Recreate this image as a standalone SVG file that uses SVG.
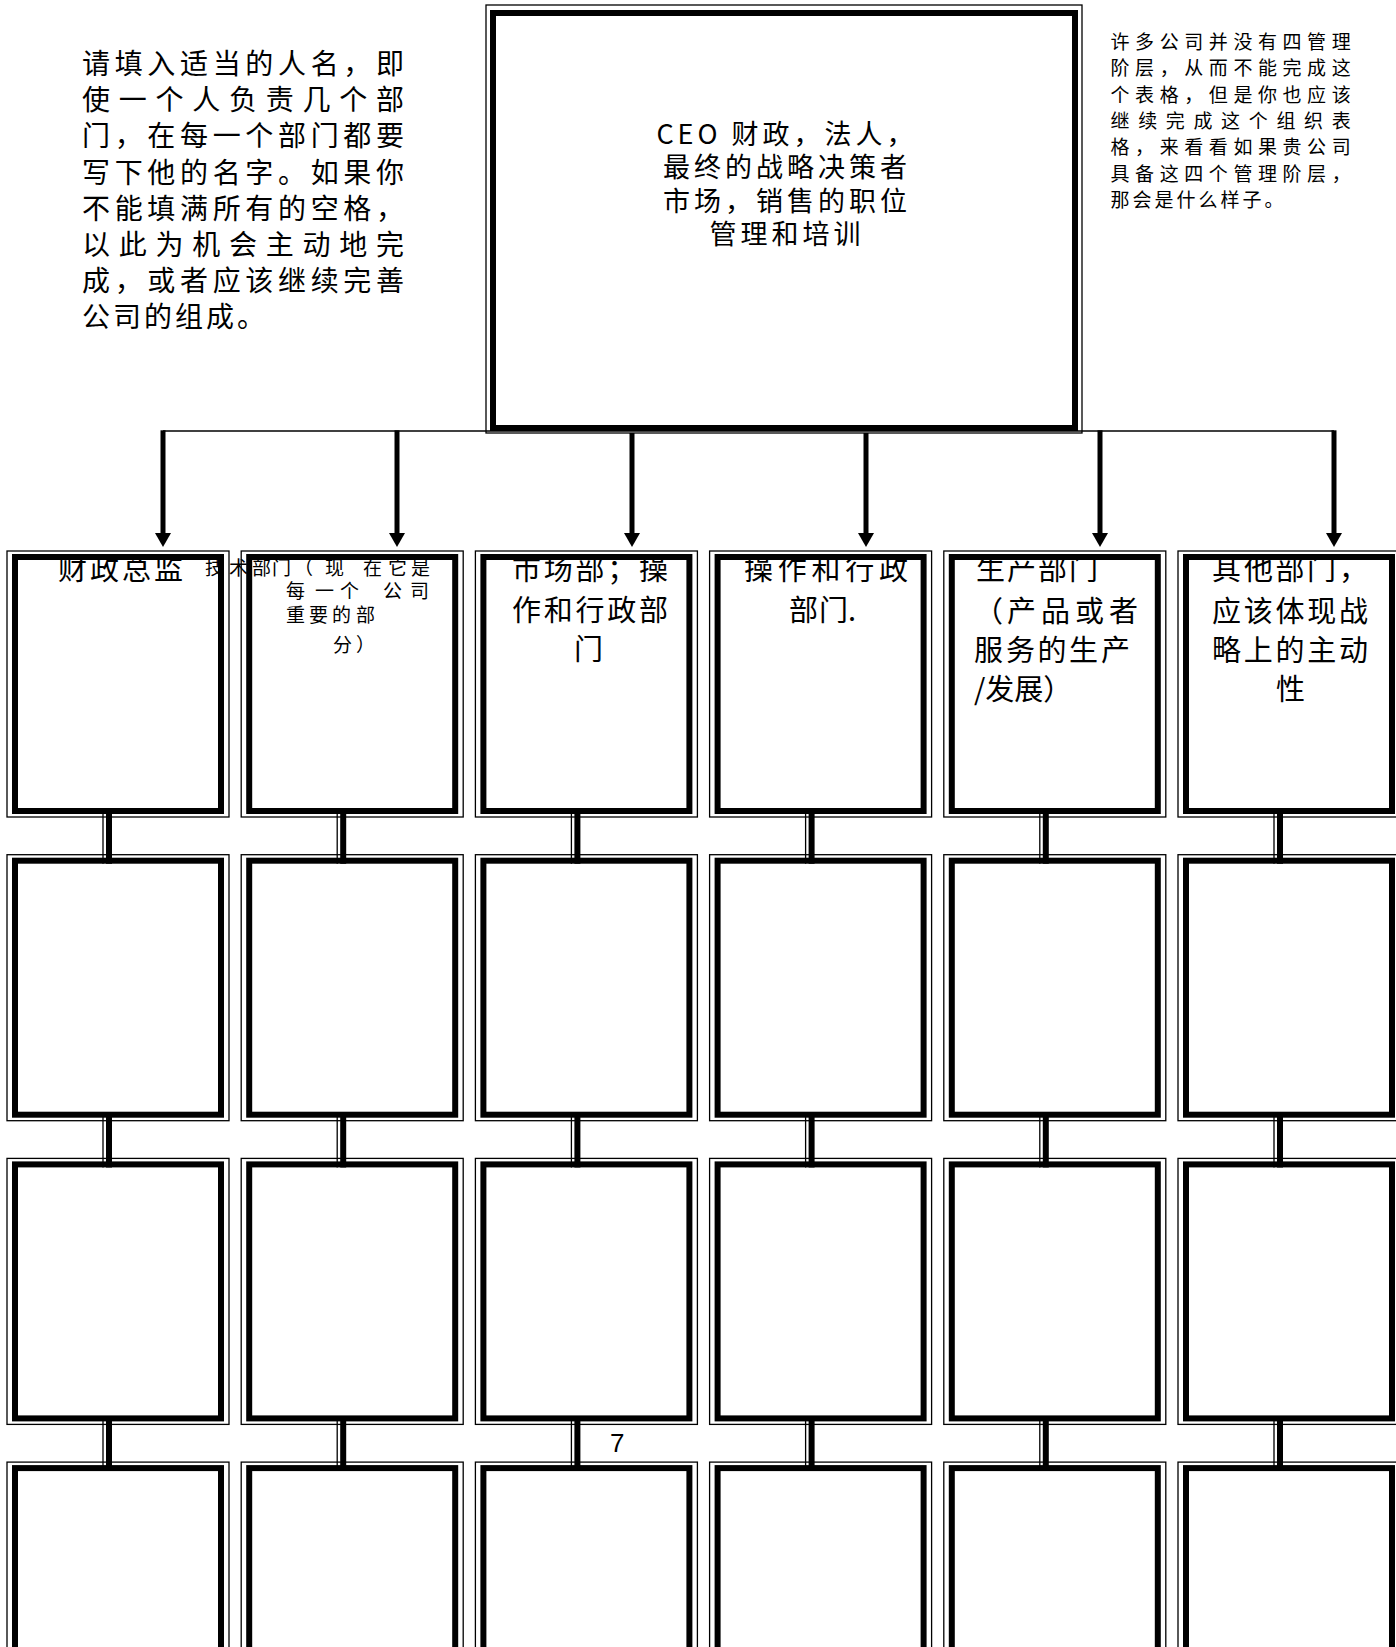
<svg xmlns="http://www.w3.org/2000/svg" width="1396" height="1647" viewBox="0 0 1396 1647">
<style>
.thin{fill:none;stroke:#000;stroke-width:1.3}
.thick{fill:none;stroke:#000;stroke-width:6}
.ct{fill:none;stroke:#000;stroke-width:1.3}
.ck{fill:none;stroke:#000;stroke-width:6}
.hl{fill:none;stroke:#000;stroke-width:1.5}
.ar{fill:none;stroke:#000;stroke-width:5;marker-end:url(#ah)}
.t{font-family:"Noto Sans CJK SC","Noto Sans",sans-serif;fill:#000}
.f28{font-size:28px}
.f19{font-size:19px}
.fceo{font-size:27px;letter-spacing:4px}
.f29{font-size:29px}
.fsm{font-size:19px}
.num{font-family:"Liberation Sans",Arial,sans-serif;font-size:26px;fill:#000}
</style>
<defs>
<marker id="ah" markerUnits="userSpaceOnUse" markerWidth="14" markerHeight="16" viewBox="0 0 14 16" refX="0" refY="8" orient="auto"><path d="M0,0 L14,8 L0,16 z" fill="#000"/></marker>
</defs>
<rect x="0" y="0" width="1396" height="1647" fill="#fff"/>

<g id="note-left" class="t f28">
<text x="82 114.7 147.3 180 212.7 245.3 278 310.7 343.3 376" y="73.9">请填入适当的人名，即</text>
<text x="82 118.75 155.5 192.25 229 265.75 302.5 339.25 376" y="110.1">使一个人负责几个部</text>
<text x="82 114.7 147.3 180 212.7 245.3 278 310.7 343.3 376" y="146.3">门，在每一个部门都要</text>
<text x="82 114.7 147.3 180 212.7 245.3 278 310.7 343.3 376" y="182.5">写下他的名字。如果你</text>
<text x="82 114.7 147.3 180 212.7 245.3 278 310.7 343.3 376" y="218.7">不能填满所有的空格，</text>
<text x="82 118.75 155.5 192.25 229 265.75 302.5 339.25 376" y="254.9">以此为机会主动地完</text>
<text x="82 114.7 147.3 180 212.7 245.3 278 310.7 343.3 376" y="291.1">成，或者应该继续完善</text>
<text x="82 113 144 175 206 237" y="327.3">公司的组成。</text>
</g>

<g id="note-right" class="t f19">
<text x="1110.5 1135.1 1159.7 1184.2 1208.8 1233.4 1258 1282.6 1307.1 1331.7" y="48.8">许多公司并没有四管理</text>
<text x="1110.5 1135.1 1159.7 1184.2 1208.8 1233.4 1258 1282.6 1307.1 1331.7" y="75.2">阶层，从而不能完成这</text>
<text x="1110.5 1135.1 1159.7 1184.2 1208.8 1233.4 1258 1282.6 1307.1 1331.7" y="101.6">个表格，但是你也应该</text>
<text x="1110.5 1138.2 1165.8 1193.5 1221.1 1248.8 1276.4 1304.1 1331.7" y="128">继续完成这个组织表</text>
<text x="1110.5 1135.1 1159.7 1184.2 1208.8 1233.4 1258 1282.6 1307.1 1331.7" y="154.4">格，来看看如果贵公司</text>
<text x="1110.5 1135.1 1159.7 1184.2 1208.8 1233.4 1258 1282.6 1307.1 1331.7" y="180.8">具备这四个管理阶层，</text>
<text x="1110.5 1132.5 1154.5 1176.5 1198.5 1220.5 1242.5 1264.5" y="207.2">那会是什么样子。</text>
</g>

<g id="ceo">
<rect class="thin" x="486" y="5" width="596" height="428"/>
<rect class="thick" x="493" y="13" width="582" height="415"/>
<g class="t fceo" text-anchor="middle">
<text x="787" y="143.5">CEO 财政，法人，</text>
<text x="787" y="177">最终的战略决策者</text>
<text x="787" y="210.5">市场，销售的职位</text>
<text x="787" y="244">管理和培训</text>
</g>
</g>

<g id="connectors">
<path class="hl" d="M163,431 H1334"/>
<line class="ar" x1="163" y1="430.3" x2="163" y2="533"/>
<line class="ar" x1="397" y1="430.3" x2="397" y2="533"/>
<line class="ar" x1="632" y1="433" x2="632" y2="533"/>
<line class="ar" x1="866" y1="433" x2="866" y2="533"/>
<line class="ar" x1="1100" y1="430.3" x2="1100" y2="533"/>
<line class="ar" x1="1334" y1="430.3" x2="1334" y2="533"/>
<path class="ct" d="M103,809V863.7M103,1112.7V1167.4M103,1416.4V1471.1"/>
<path class="ck" d="M109,809V863.7M109,1112.7V1167.4M109,1416.4V1471.1"/>
<path class="ct" d="M337.2,809V863.7M337.2,1112.7V1167.4M337.2,1416.4V1471.1"/>
<path class="ck" d="M343.2,809V863.7M343.2,1112.7V1167.4M343.2,1416.4V1471.1"/>
<path class="ct" d="M571.4,809V863.7M571.4,1112.7V1167.4M571.4,1416.4V1471.1"/>
<path class="ck" d="M577.4,809V863.7M577.4,1112.7V1167.4M577.4,1416.4V1471.1"/>
<path class="ct" d="M805.6,809V863.7M805.6,1112.7V1167.4M805.6,1416.4V1471.1"/>
<path class="ck" d="M811.6,809V863.7M811.6,1112.7V1167.4M811.6,1416.4V1471.1"/>
<path class="ct" d="M1039.8,809V863.7M1039.8,1112.7V1167.4M1039.8,1416.4V1471.1"/>
<path class="ck" d="M1045.8,809V863.7M1045.8,1112.7V1167.4M1045.8,1416.4V1471.1"/>
<path class="ct" d="M1274,809V863.7M1274,1112.7V1167.4M1274,1416.4V1471.1"/>
<path class="ck" d="M1280,809V863.7M1280,1112.7V1167.4M1280,1416.4V1471.1"/>
</g>

<g id="dept-finance">
<text class="t f29" x="58 90 122 154" y="580">财政总监</text>
<rect class="thin" x="7" y="551" width="222" height="266"/>
<rect class="thick" x="15" y="557" width="206" height="254"/>
</g>
<g id="dept-tech">
<g class="t fsm">
<text x="205 229 252 272 294 325 363 388 411" y="575">技术部门（现在它是</text>
<text x="286 315 340 383 410" y="598">每一个公司</text>
<text x="286 309 332 356" y="621.5">重要的部</text>
<text x="333 356" y="652">分）</text>
</g>
<rect class="thin" x="241.2" y="551" width="222" height="266"/>
<rect class="thick" x="249.2" y="557" width="206" height="254"/>
</g>
<g id="dept-marketing">
<g class="t f29">
<text x="512 543.75 575.5 607.25 639" y="580">市场部；操</text>
<text x="512 543.75 575.5 607.25 639" y="621">作和行政部</text>
<text x="574" y="660">门</text>
</g>
<rect class="thin" x="475.4" y="551" width="222" height="266"/>
<rect class="thick" x="483.4" y="557" width="206" height="254"/>
</g>
<g id="dept-operations">
<g class="t f29">
<text x="744 777.75 811.5 845.25 879" y="580">操作和行政</text>
<text x="789 819 848" y="621">部门.</text>
</g>
<rect class="thin" x="709.6" y="551" width="222" height="266"/>
<rect class="thick" x="717.6" y="557" width="206" height="254"/>
</g>
<g id="dept-production">
<g class="t f29">
<text x="976 1007 1038 1069" y="580">生产部门</text>
<text x="974 1007 1041 1075 1109" y="622">（产品或者</text>
<text x="974 1006 1037.5 1069 1101" y="661">服务的生产</text>
<text x="974" y="700">/发展）</text>
</g>
<rect class="thin" x="943.8" y="551" width="222" height="266"/>
<rect class="thick" x="951.8" y="557" width="206" height="254"/>
</g>
<g id="dept-other">
<g class="t f29">
<text x="1212 1244 1275.5 1307 1339" y="580">其他部门，</text>
<text x="1212 1243.75 1275.5 1307.25 1339" y="622">应该体现战</text>
<text x="1212 1243.75 1275.5 1307.25 1339" y="661">略上的主动</text>
<text x="1276" y="700">性</text>
</g>
<rect class="thin" x="1178" y="551" width="222" height="266"/>
<rect class="thick" x="1186" y="557" width="206" height="254"/>
</g>

<g id="r2c1"><rect class="thin" x="7" y="854.7" width="222" height="266"/><rect class="thick" x="15" y="860.7" width="206" height="254"/></g>
<g id="r2c2"><rect class="thin" x="241.2" y="854.7" width="222" height="266"/><rect class="thick" x="249.2" y="860.7" width="206" height="254"/></g>
<g id="r2c3"><rect class="thin" x="475.4" y="854.7" width="222" height="266"/><rect class="thick" x="483.4" y="860.7" width="206" height="254"/></g>
<g id="r2c4"><rect class="thin" x="709.6" y="854.7" width="222" height="266"/><rect class="thick" x="717.6" y="860.7" width="206" height="254"/></g>
<g id="r2c5"><rect class="thin" x="943.8" y="854.7" width="222" height="266"/><rect class="thick" x="951.8" y="860.7" width="206" height="254"/></g>
<g id="r2c6"><rect class="thin" x="1178" y="854.7" width="222" height="266"/><rect class="thick" x="1186" y="860.7" width="206" height="254"/></g>

<g id="r3c1"><rect class="thin" x="7" y="1158.4" width="222" height="266"/><rect class="thick" x="15" y="1164.4" width="206" height="254"/></g>
<g id="r3c2"><rect class="thin" x="241.2" y="1158.4" width="222" height="266"/><rect class="thick" x="249.2" y="1164.4" width="206" height="254"/></g>
<g id="r3c3"><rect class="thin" x="475.4" y="1158.4" width="222" height="266"/><rect class="thick" x="483.4" y="1164.4" width="206" height="254"/></g>
<g id="r3c4"><rect class="thin" x="709.6" y="1158.4" width="222" height="266"/><rect class="thick" x="717.6" y="1164.4" width="206" height="254"/></g>
<g id="r3c5"><rect class="thin" x="943.8" y="1158.4" width="222" height="266"/><rect class="thick" x="951.8" y="1164.4" width="206" height="254"/></g>
<g id="r3c6"><rect class="thin" x="1178" y="1158.4" width="222" height="266"/><rect class="thick" x="1186" y="1164.4" width="206" height="254"/></g>

<g id="r4c1"><rect class="thin" x="7" y="1462.1" width="222" height="266"/><rect class="thick" x="15" y="1468.1" width="206" height="254"/></g>
<g id="r4c2"><rect class="thin" x="241.2" y="1462.1" width="222" height="266"/><rect class="thick" x="249.2" y="1468.1" width="206" height="254"/></g>
<g id="r4c3"><rect class="thin" x="475.4" y="1462.1" width="222" height="266"/><rect class="thick" x="483.4" y="1468.1" width="206" height="254"/></g>
<g id="r4c4"><rect class="thin" x="709.6" y="1462.1" width="222" height="266"/><rect class="thick" x="717.6" y="1468.1" width="206" height="254"/></g>
<g id="r4c5"><rect class="thin" x="943.8" y="1462.1" width="222" height="266"/><rect class="thick" x="951.8" y="1468.1" width="206" height="254"/></g>
<g id="r4c6"><rect class="thin" x="1178" y="1462.1" width="222" height="266"/><rect class="thick" x="1186" y="1468.1" width="206" height="254"/></g>

<text id="page-number" class="num" x="610" y="1452">7</text>
</svg>
